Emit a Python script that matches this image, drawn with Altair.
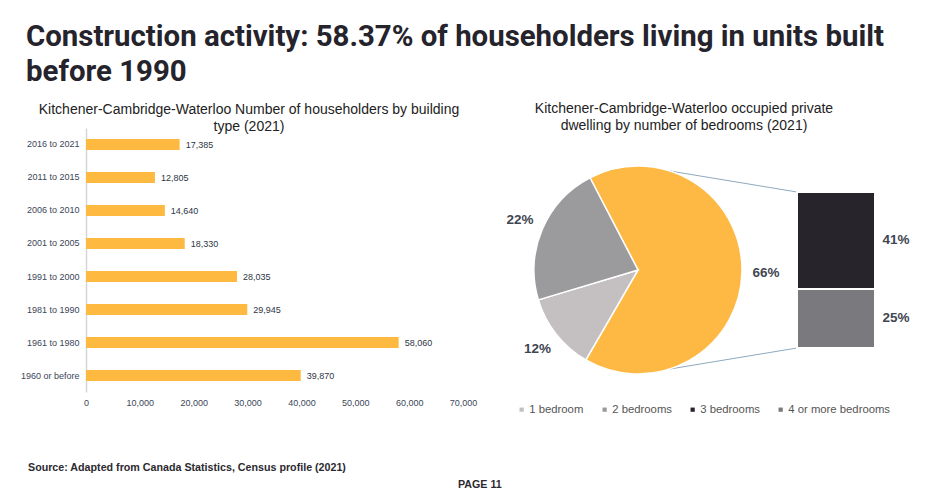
import math
import altair as alt
import pandas as pd

# ---------------- data ----------------
periods = ["2016 to 2021", "2011 to 2015", "2006 to 2010", "2001 to 2005",
           "1991 to 2000", "1981 to 1990", "1961 to 1980", "1960 or before"]
households = [17385, 12805, 14640, 18330, 28035, 29945, 58060, 39870]
x_ticks = [0, 10000, 20000, 30000, 40000, 50000, 60000, 70000]

pie_cats = ["3 or more bedrooms", "1 bedroom", "2 bedrooms"]
pie_pct = [66, 12, 22]
pie_order = [1, 2, 3]

stack_cats = ["4 or more bedrooms", "3 bedrooms"]
stack_pct = [25, 41]
stack_order = [1, 2]

legend_cats = ["1 bedroom", "2 bedrooms", "3 bedrooms", "4 or more bedrooms"]

main_title = "Construction activity: 58.37% of householders living in units built\nbefore 1990"
left_title = "Kitchener-Cambridge-Waterloo Number of householders by building\ntype (2021)"
right_title = "Kitchener-Cambridge-Waterloo occupied private\ndwelling by number of bedrooms (2021)"
source_text = "Source: Adapted from Canada Statistics, Census profile (2021)"
page_text = "PAGE  11"

df_bars = pd.DataFrame({"period": periods, "households": households})
df_pie = pd.DataFrame({"cat": pie_cats, "pct": pie_pct, "ord": pie_order})
df_pie["label"] = df_pie["pct"].astype(str) + "%"
df_stack = pd.DataFrame({"cat": stack_cats, "pct": stack_pct, "ord": stack_order})
df_stack["label"] = df_stack["pct"].astype(str) + "%"

# ---------------- styles ----------------
FONT = "Liberation Sans, Arial, sans-serif"
YELLOW = "#FDB940"
color_scale = alt.Scale(
    domain=["1 bedroom", "2 bedrooms", "3 bedrooms", "4 or more bedrooms", "3 or more bedrooms"],
    range=["#c4c0c1", "#9b9a9c", "#27242c", "#7a797e", "#FEB944"],
)
legend = alt.Legend(
    values=legend_cats, orient="none", legendX=516, legendY=404, direction="horizontal",
    title=None, symbolType="square", symbolSize=18, symbolStrokeWidth=0,
    labelFontSize=11.3, labelColor="#555555", labelFont=FONT, columnPadding=15,
    labelOffset=2,
)

# ---------------- left: horizontal bars ----------------
xs = alt.Scale(domain=[0, 70000], range=[86, 463], nice=False)
ys = alt.Scale(domain=periods, range=[128, 392], paddingInner=0.667, paddingOuter=0.333)

bars = alt.Chart(df_bars).mark_bar(color=YELLOW).encode(
    x=alt.X("households:Q", scale=xs,
            axis=alt.Axis(values=x_ticks, labelExpr="format(datum.value, ',')",
                          domain=False, ticks=False, tickSize=0,
                          grid=False, labelFontSize=9, labelColor="#3b4658", labelFont=FONT,
                          offset=-103, labelPadding=5, title=None, labelFlush=False,
                          orient="bottom")),
    y=alt.Y("period:N", sort=periods, scale=ys,
            axis=alt.Axis(domain=True, domainColor="#d6d6d6", domainWidth=1.5, ticks=False,
                          tickSize=0, grid=False, labelFontSize=9, labelColor="#3b4658",
                          labelFont=FONT, offset=-86, labelPadding=7, title=None,
                          orient="left")),
)
bar_labels = alt.Chart(df_bars).mark_text(
    align="left", baseline="middle", dx=6, fontSize=9, font=FONT, color="#2d3643"
).encode(
    x=alt.X("households:Q", scale=xs, axis=None),
    y=alt.Y("period:N", sort=periods, scale=ys, axis=None),
    text=alt.Text("households:Q", format=","),
)

# ---------------- right: pie ----------------
start = math.radians(-27.5) + 2 * math.pi
theta_scale = alt.Scale(domain=[0, 100], range=[start, start + 2 * math.pi])
CX, CY, R = 638, 270, 104

pie = alt.Chart(df_pie).mark_arc(outerRadius=R, stroke="white", strokeWidth=1.5).encode(
    theta=alt.Theta("pct:Q", stack=True, scale=theta_scale),
    color=alt.Color("cat:N", scale=color_scale, legend=legend),
    order=alt.Order("ord:Q"),
    x=alt.value(CX), y=alt.value(CY),
)
pie_labels = alt.Chart(df_pie).mark_text(
    radius=128, fontSize=13.5, fontWeight="bold", font=FONT, color="#3f4652"
).encode(
    theta=alt.Theta("pct:Q", stack=True, scale=theta_scale),
    order=alt.Order("ord:Q"),
    text="label:N",
    x=alt.value(CX), y=alt.value(CY),
)

# ---------------- right: bar of pie ----------------
sy = alt.Scale(domain=[0, 66], range=[348, 192], nice=False, zero=True)
stack_base = alt.Chart(df_stack).transform_window(
    cum="sum(pct)", sort=[alt.SortField("ord")], frame=[None, 0]
).transform_calculate(lo="datum.cum - datum.pct", mid="datum.cum - datum.pct / 2")

stack_rect = stack_base.mark_rect(stroke="white", strokeWidth=2).encode(
    x=alt.value(797), x2=alt.value(875),
    y=alt.Y("lo:Q", scale=sy, axis=None), y2="cum:Q",
    color=alt.Color("cat:N", scale=color_scale, legend=legend),
)
stack_labels = stack_base.mark_text(
    fontSize=13.5, fontWeight="bold", font=FONT, color="#3f4652", align="center", baseline="middle"
).encode(
    x=alt.value(896), y=alt.Y("mid:Q", scale=sy, axis=None), text="label:N",
)
conn_top = stack_base.transform_filter("datum.ord == 2").mark_rule(
    color="#8fa9be", strokeWidth=1
).encode(
    x=alt.value(797), x2=alt.value(670),
    y=alt.Y("cum:Q", scale=sy, axis=None), y2=alt.value(171),
)
conn_bot = stack_base.transform_filter("datum.ord == 1").mark_rule(
    color="#8fa9be", strokeWidth=1
).encode(
    x=alt.value(797), x2=alt.value(670),
    y=alt.Y("lo:Q", scale=sy, axis=None), y2=alt.value(369),
)

# ---------------- texts ----------------
def text_layer(txt, x, y, **kw):
    return alt.Chart(pd.DataFrame({"t": [txt]})).mark_text(lineBreak="\n", **kw).encode(
        text="t:N", x=alt.value(x), y=alt.value(y)
    )

t_main = text_layer(main_title, 26, 46, align="left", baseline="alphabetic",
                    font="Roboto, Liberation Sans, sans-serif", fontSize=29.4,
                    fontWeight="bold", color="#25232b", lineHeight=35)
t_left = text_layer(left_title, 249, 114, align="center", baseline="alphabetic", font=FONT,
                    fontSize=14, color="#222222", lineHeight=17)
t_right = text_layer(right_title, 684, 113, align="center", baseline="alphabetic", font=FONT,
                     fontSize=14, color="#222222", lineHeight=16.5)
t_src = text_layer(source_text, 28, 471, align="left", baseline="alphabetic", font=FONT,
                   fontSize=10.7, fontWeight="bold", color="#2c2a30")
t_page = text_layer(page_text, 458, 488, align="left", baseline="alphabetic", font=FONT,
                    fontSize=10.7, fontWeight="bold", color="#2c2a30")

chart = alt.layer(
    bars, bar_labels, conn_top, conn_bot, pie, pie_labels, stack_rect, stack_labels,
    t_main, t_left, t_right, t_src, t_page
).resolve_scale(
    x="independent", y="independent", theta="independent"
).resolve_axis(
    x="independent", y="independent"
).properties(
    width=947, height=496, autosize="none", padding=0, background="white"
).configure_view(stroke=None)

chart.save("out.html", embed_options={"renderer": "svg", "actions": False})
